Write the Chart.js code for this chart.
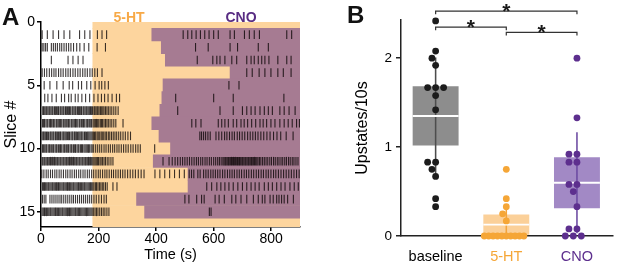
<!DOCTYPE html>
<html><head><meta charset="utf-8">
<script src="https://cdn.jsdelivr.net/npm/chart.js@4.4.1/dist/chart.umd.min.js"></script>
<style>
html,body{margin:0;padding:0;background:#fff;}
#wrap{position:relative;width:617px;height:264px;overflow:hidden;font-family:'Liberation Sans',Arial,sans-serif;}
.pane{position:absolute;top:0;height:264px;}
.lbl{position:absolute;font-weight:bold;line-height:1;white-space:nowrap;}
</style></head><body>
<div id="wrap">
  <div class="pane" style="left:0;width:312px"><canvas id="chartA"></canvas></div>
  <div class="pane" style="left:330px;width:287px"><canvas id="chartB"></canvas></div>
  <div class="lbl" style="left:2px;top:5px;font-size:24px;color:#111">A</div>
  <div class="lbl" style="left:129px;top:10px;font-size:14px;color:#f7a947;transform:translateX(-50%)">5-HT</div>
  <div class="lbl" style="left:241px;top:10px;font-size:14px;color:#582c83;transform:translateX(-50%)">CNO</div>
  <div class="lbl" style="left:347px;top:3px;font-size:24px;color:#111">B</div>
</div>
<script>
// ---------- Panel A data: upstate onset times (s) per slice ----------
const slice01 = [4, 22, 42, 61, 80, 100, 134, 152, 170, 196, 212, 228, 494, 510, 524, 539, 554, 569, 584, 600, 616, 657, 672, 707, 724, 741, 759, 854, 871];
const slice02 = [4, 10, 16, 22, 36, 43, 50, 57, 65, 72, 80, 88, 96, 104, 113, 124, 135, 150, 166, 195, 224, 537, 581, 657, 683, 755, 790];
const slice03 = [36, 94, 111, 129, 146, 543, 597, 611, 622, 639, 663, 680, 715, 730, 741, 755, 767, 778, 792, 823, 854, 869];
const slice04 = [4, 12, 20, 29, 37, 45, 52, 61, 69, 77, 86, 94, 102, 111, 119, 128, 136, 145, 153, 161, 170, 178, 187, 196, 212, 715, 734, 758, 778, 799, 823, 842, 869];
const slice05 = [11, 31, 55, 77, 98, 110, 130, 141, 159, 173, 188, 202, 211, 222, 234, 653, 688];
const slice06 = [13, 24, 38, 53, 71, 82, 96, 105, 119, 129, 142, 155, 169, 184, 198, 210, 221, 233, 247, 262, 273, 468, 600, 668, 844];
const slice07 = [6, 9, 13, 17, 20, 24, 28, 31, 35, 39, 42, 47, 50, 54, 58, 61, 66, 69, 73, 77, 80, 85, 88, 92, 96, 99, 103, 108, 111, 115, 119, 122, 127, 130, 134, 138, 141, 146, 149, 153, 157, 160, 164, 168, 172, 175, 179, 184, 187, 191, 195, 198, 202, 207, 211, 215, 219, 224, 229, 234, 240, 246, 253, 260, 268, 475, 622, 668, 700, 715, 730, 744, 761, 776, 790, 804, 830, 845, 862, 883];
const slice08 = [5, 9, 12, 17, 21, 24, 29, 33, 36, 41, 44, 48, 53, 56, 60, 64, 68, 72, 77, 80, 84, 88, 93, 96, 100, 105, 108, 112, 117, 120, 124, 128, 133, 136, 141, 145, 148, 152, 157, 161, 164, 169, 173, 176, 181, 185, 189, 193, 197, 201, 206, 210, 214, 219, 224, 229, 234, 240, 246, 253, 260, 285, 524, 538, 556, 616, 628, 639, 651, 668, 680, 695, 706, 718, 732, 746, 761, 772, 784, 799, 813, 830, 845, 859, 873, 888, 898];
const slice09 = [4, 8, 11, 15, 19, 22, 26, 31, 34, 38, 42, 45, 50, 53, 57, 61, 65, 68, 73, 77, 80, 84, 88, 92, 96, 99, 104, 108, 111, 116, 119, 123, 127, 131, 135, 139, 142, 146, 151, 154, 158, 162, 166, 170, 174, 178, 182, 186, 190, 195, 199, 204, 209, 213, 218, 223, 228, 234, 239, 245, 251, 257, 263, 270, 277, 285, 293, 302, 311, 552, 558, 565, 572, 580, 588, 608, 618, 628, 638, 646, 655, 664, 672, 682, 690, 699, 708, 718, 727, 736, 745, 754, 764, 774, 785, 796, 808, 820, 833, 852, 876];
const slice10 = [5, 9, 13, 17, 20, 25, 29, 32, 37, 41, 44, 49, 53, 56, 61, 65, 68, 72, 77, 81, 84, 89, 93, 96, 101, 105, 108, 113, 117, 120, 125, 129, 132, 137, 141, 144, 149, 153, 157, 161, 165, 169, 174, 178, 183, 190, 197, 204, 211, 219, 226, 234, 241, 249, 256, 264, 271, 279, 287, 295, 303, 312, 320, 329, 337, 345, 395];
const slice11 = [4, 7, 11, 14, 18, 22, 25, 29, 33, 36, 40, 44, 47, 51, 55, 58, 62, 66, 69, 73, 77, 80, 84, 88, 91, 95, 99, 102, 106, 110, 113, 117, 121, 124, 128, 132, 135, 139, 143, 146, 150, 154, 157, 161, 165, 168, 172, 176, 180, 184, 188, 192, 196, 200, 205, 209, 214, 219, 224, 230, 236, 243, 250,
  424, 445, 456, 466, 475, 484, 492, 500, 508, 516, 524, 532, 540, 547, 555, 562, 570, 577, 585, 592, 600, 607, 614, 620, 626, 632, 636, 640, 643, 647, 651, 654, 658, 662, 665, 669, 672, 676, 680, 683, 687, 690, 694, 698, 701, 705, 709, 712, 716, 720, 723, 727, 731, 734, 738, 742, 746, 750, 754, 759, 764, 770, 776, 782, 788, 795, 801, 808, 814, 821, 827, 834, 840, 847, 853, 860, 866, 873, 879, 886, 893];
const slice12 = [3, 10, 18, 25, 33, 40, 48, 55, 63, 70, 78, 86, 93, 101, 108, 116, 123, 131, 138, 146, 153, 161, 168, 176, 183, 191, 199, 206, 214, 222, 229, 237, 245, 252, 260, 268, 276, 284, 292, 301, 310, 319, 328, 338, 348, 358, 396, 413, 430, 447, 464, 481, 498,
  515, 523, 531, 545, 553, 565, 573, 581, 590, 598, 606, 614, 622, 631, 639, 648, 656, 664, 672, 681, 689, 697, 706, 714, 722, 731, 739, 748, 756, 765, 773, 782, 790, 799, 808, 816, 825, 834, 843, 852, 861, 870, 879, 888, 897];
const slice13 = [5, 9, 12, 16, 20, 24, 27, 31, 35, 39, 42, 46, 50, 54, 58, 61, 65, 69, 73, 77, 80, 84, 88, 92, 95, 99, 103, 107, 111, 114, 118, 122, 126, 130, 133, 137, 141, 145, 149, 152, 156, 160, 164, 168, 172, 176, 180, 184, 189, 193, 198, 203, 208, 213, 218, 224, 230, 250, 264,
  576, 593, 611, 625, 639, 653, 668, 684, 700, 715, 730, 744, 758, 776, 790, 804, 819, 834, 848, 865, 880, 894];
const slice14 = [5, 11, 17, 31, 38, 45, 52, 59, 66, 72, 79, 86, 93, 100, 107, 113, 120, 127, 134, 141, 148, 155, 162, 169, 176, 184, 192, 201, 210, 219, 227,
  500, 514, 541, 558, 567, 605, 619, 637, 663, 677, 695, 715, 738, 755, 769, 778, 796, 807, 819, 827, 836, 845, 857, 877];
const slice15 = [4, 8, 12, 15, 19, 23, 27, 31, 34, 38, 42, 46, 50, 53, 57, 61, 65, 69, 73, 76, 80, 84, 88, 92, 96, 99, 103, 107, 111, 115, 119, 122, 126, 130, 134, 138, 142, 146, 150, 154, 158, 162, 166, 170, 174, 178, 183, 188, 193, 198, 204, 210, 216, 222, 229, 236, 585, 591];

const slices = [slice01, slice02, slice03, slice04, slice05, slice06, slice07, slice08, slice09, slice10, slice11, slice12, slice13, slice14, slice15];
const cnoOnset = [385, 418, 432, 657, 424, 420, 413, 385, 410, 450, 390, 511, 511, 332, 360];   // s, per slice
const htOnset = 180;      // s
const recordEnd = 900;    // s
const timeTicks = [0, 200, 400, 600, 800];
const sliceTicks = [0, 5, 10, 15];

// ---------- Panel B data: upstates / 10 s ----------
const groupLabels = ['baseline', '5-HT', 'CNO'];
const baselineVals = [2.42, 2.08, 2.00, 1.92, 1.67, 1.67, 1.67, 1.58, 1.42, 0.83, 0.83, 0.75, 0.67, 0.42, 0.33];
const htVals = [0.75, 0.42, 0.33, 0.25, 0.17, 0, 0, 0, 0, 0, 0, 0, 0, 0, 0];
const cnoVals = [2.00, 1.33, 0.92, 0.92, 0.83, 0.83, 0.58, 0.58, 0.50, 0.33, 0.08, 0.08, 0, 0, 0];
const upTicks = [0, 1, 2];
const sigPairs = [[0, 1], [1, 2], [0, 2]];
const sigLevels = [2.35, 2.29, 2.53];
const sigMarks = ['*', '*', '*'];

// ---------- styles ----------
const FONT = "'Liberation Sans', Arial, sans-serif";
Chart.defaults.font.family = FONT;
Chart.defaults.color = '#000';
Chart.defaults.animation = false;
const dotColors = ['#1c1c1c', '#f5a637', '#5d2f8e'];
const boxColors = ['#8d8d8d', 'rgba(248,170,70,0.55)', 'rgb(162,137,197)'];
const whiskerColors = ['#4d4d4d', '#f3a43c', '#6c4aa2'];
const labelColors = ['#000', '#f5a637', '#5d2f8e'];

// ---------- Panel A ----------
const spikePts = [];
slices.forEach((arr, i) => arr.forEach(t => spikePts.push({x: t, y: i + 1})));
const cnoBars = cnoOnset.map((s, i) => ({x: [s, recordEnd], y: i + 1}));
const htBars = [];
for (let r = 0; r <= slices.length + 1; r++) htBars.push({x: [htOnset, recordEnd], y: r});

const axisCommon = {
  offset: false,
  grid: {display: true, offset: false, drawOnChartArea: false, drawTicks: true, tickLength: 4, color: '#000', lineWidth: 1.5},
  border: {display: true, color: '#000', width: 1.5}
};

new Chart(document.getElementById('chartA'), {
  type: 'scatter',
  data: {datasets: [
    {type: 'scatter', data: spikePts, pointStyle: 'line', pointRotation: 90, pointRadius: 4.3,
     pointBorderWidth: 1.1, pointBorderColor: 'rgba(10,5,5,0.8)', borderColor: 'rgba(10,5,5,0.8)', order: 1, clip: 0},
    {type: 'bar', indexAxis: 'y', data: cnoBars, backgroundColor: '#a67b92', grouped: false,
     barPercentage: 1, categoryPercentage: 1, order: 2, clip: 0},
    {type: 'bar', indexAxis: 'y', data: htBars, backgroundColor: '#fdd59e', grouped: false,
     barPercentage: 1, categoryPercentage: 1, order: 3, clip: 0}
  ]},
  options: {
    responsive: true, maintainAspectRatio: false, events: [],
    layout: {padding: {left: 0, top: 22, right: 12, bottom: 0}},
    plugins: {legend: {display: false}, tooltip: {enabled: false}},
    scales: {
      x: Object.assign({}, axisCommon, {
        type: 'linear', min: 0, max: recordEnd,
        afterBuildTicks: s => { s.ticks = timeTicks.map(v => ({value: v})); },
        afterFit: s => { s.height = 37; },
        ticks: {font: {size: 14}, color: '#000', padding: 0, maxRotation: 0, autoSkip: false},
        title: {display: true, text: 'Time (s)', font: {size: 14.5}, color: '#000', padding: {top: 0, bottom: 0}}
      }),
      y: Object.assign({}, axisCommon, {
        type: 'linear', reverse: true, min: 0, max: 16.2,
        afterBuildTicks: s => { s.ticks = sliceTicks.map(v => ({value: v})); },
        afterFit: s => { s.width = 41; },
        ticks: {font: {size: 14}, color: '#000', padding: 2, autoSkip: false},
        title: {display: true, text: 'Slice #', font: {size: 16}, color: '#000', padding: {top: 2, bottom: 0}}
      })
    }
  }
});

// ---------- Panel B ----------
const groups = [baselineVals, htVals, cnoVals];
const stats = groups.map(v => {
  const n = v.length, m = v.reduce((a, b) => a + b, 0) / n;
  const sd = Math.sqrt(v.reduce((a, b) => a + (b - m) * (b - m), 0) / (n - 1));
  const ci = 1.96 * sd / Math.sqrt(n);
  return {m, sd, ci};
});

const starPlugin = {
  id: 'stars',
  afterDatasetsDraw(chart) {
    const {ctx, scales: {x, y}} = chart;
    ctx.save();
    ctx.font = 'bold 21px ' + FONT;
    ctx.textAlign = 'center';
    ctx.textBaseline = 'alphabetic';
    ctx.fillStyle = '#1a1a1a';
    sigPairs.forEach((p, i) => {
      ctx.fillText(sigMarks[i], x.getPixelForValue((p[0] + p[1]) / 2), y.getPixelForValue(sigLevels[i]) + 7);
    });
    ctx.restore();
  }
};

const dsB = [
  {type: 'bar', data: stats.map((s, i) => ({x: i, y: [s.m - s.ci, s.m + s.ci]})), backgroundColor: boxColors,
   grouped: false, barPercentage: 0.65, categoryPercentage: 1, order: 6, clip: 0},
  {type: 'bar', data: stats.map((s, i) => ({x: i, y: [s.m - s.sd, s.m + s.sd]})), backgroundColor: whiskerColors,
   grouped: false, barPercentage: 0.022, categoryPercentage: 1, order: 5, clip: 0},
  {type: 'bar', data: stats.map((s, i) => ({x: i, y: [s.m - 0.011, s.m + 0.011]})), backgroundColor: '#fff',
   grouped: false, barPercentage: 0.65, categoryPercentage: 1, order: 4, clip: 0}
];
const pointStart = dsB.length;
groups.forEach((vals, gi) => dsB.push({
  type: 'scatter', data: vals.map(v => ({x: gi, y: v})), pointRadius: 3.4, pointBorderWidth: 0,
  pointBackgroundColor: dotColors[gi], backgroundColor: dotColors[gi], order: 2, clip: false
}));
sigPairs.forEach((p, i) => dsB.push({
  type: 'scatter', showLine: true, pointRadius: 0, borderColor: '#333', borderWidth: 1.2, clip: false, order: 1,
  data: [{x: p[0], y: sigLevels[i] - 0.035}, {x: p[0], y: sigLevels[i]}, {x: p[1], y: sigLevels[i]}, {x: p[1], y: sigLevels[i] - 0.035}]
}));

const chartB = new Chart(document.getElementById('chartB'), {
  type: 'scatter',
  data: {datasets: dsB},
  plugins: [starPlugin],
  options: {
    responsive: true, maintainAspectRatio: false, events: [],
    layout: {padding: {left: 23, top: 20, right: 0, bottom: 0}},
    plugins: {legend: {display: false}, tooltip: {enabled: false}},
    scales: {
      x: {
        type: 'linear', min: -0.49, max: 2.51, offset: false,
        afterBuildTicks: s => { s.ticks = groupLabels.map((l, i) => ({value: i})); },
        afterFit: s => { s.height = 28; },
        grid: {display: true, offset: false, drawOnChartArea: false, drawTicks: false, color: '#000', lineWidth: 1.5},
        border: {display: true, color: '#222', width: 1.5},
        ticks: {font: {size: 14.5}, padding: 12, autoSkip: false, maxRotation: 0,
                color: c => labelColors[c.index], callback: (v, i) => groupLabels[i]}
      },
      y: {
        type: 'linear', min: 0, max: 2.43, offset: false,
        afterBuildTicks: s => { s.ticks = upTicks.map(v => ({value: v})); },
        afterFit: s => { s.width = 48; },
        grid: {display: true, offset: false, drawOnChartArea: false, drawTicks: true, tickLength: 5, color: '#222', lineWidth: 1.5},
        border: {display: true, color: '#222', width: 1.5},
        ticks: {font: {size: 13.5}, color: '#000', padding: 4, autoSkip: false},
        title: {display: true, text: 'Upstates/10s', font: {size: 16}, color: '#000', padding: {top: 0, bottom: 0}}
      }
    }
  }
});

// beeswarm layout of dots (deterministic, collision based, via the chart's scales)
(function swarm(chart) {
  const xs = chart.scales.x, ys = chart.scales.y;
  const pxPerX = xs.getPixelForValue(1) - xs.getPixelForValue(0);
  const d = 8, maxHalf = 22;
  groups.forEach((vals, gi) => {
    const order = vals.map((v, i) => i).sort((a, b) => vals[b] - vals[a] || a - b);
    const placed = [];
    const offs = new Array(vals.length).fill(0);
    order.forEach(i => {
      const py = ys.getPixelForValue(vals[i]);
      const cands = [0];
      placed.forEach(p => {
        const dy = Math.abs(p.y - py);
        if (dy < d) { const dx = Math.sqrt(d * d - dy * dy); cands.push(p.x - dx, p.x + dx); }
      });
      cands.sort((a, b) => Math.abs(a) - Math.abs(b) || a - b);
      let best = cands.find(c => placed.every(p => Math.hypot(p.x - c, p.y - py) >= d - 1e-6));
      if (best === undefined) best = cands[cands.length - 1];
      offs[i] = best;
      placed.push({x: best, y: py});
    });
    const byVal = {};
    vals.forEach((v, i) => { (byVal[v] = byVal[v] || []).push(i); });
    Object.values(byVal).forEach(idx => {
      const m = Math.max(...idx.map(i => Math.abs(offs[i])));
      if (m > maxHalf) idx.forEach(i => { offs[i] *= maxHalf / m; });
    });
    chart.data.datasets[pointStart + gi].data = vals.map((v, i) => ({x: gi + offs[i] / pxPerX, y: v}));
  });
  chart.update('none');
})(chartB);
</script>
</body></html>
